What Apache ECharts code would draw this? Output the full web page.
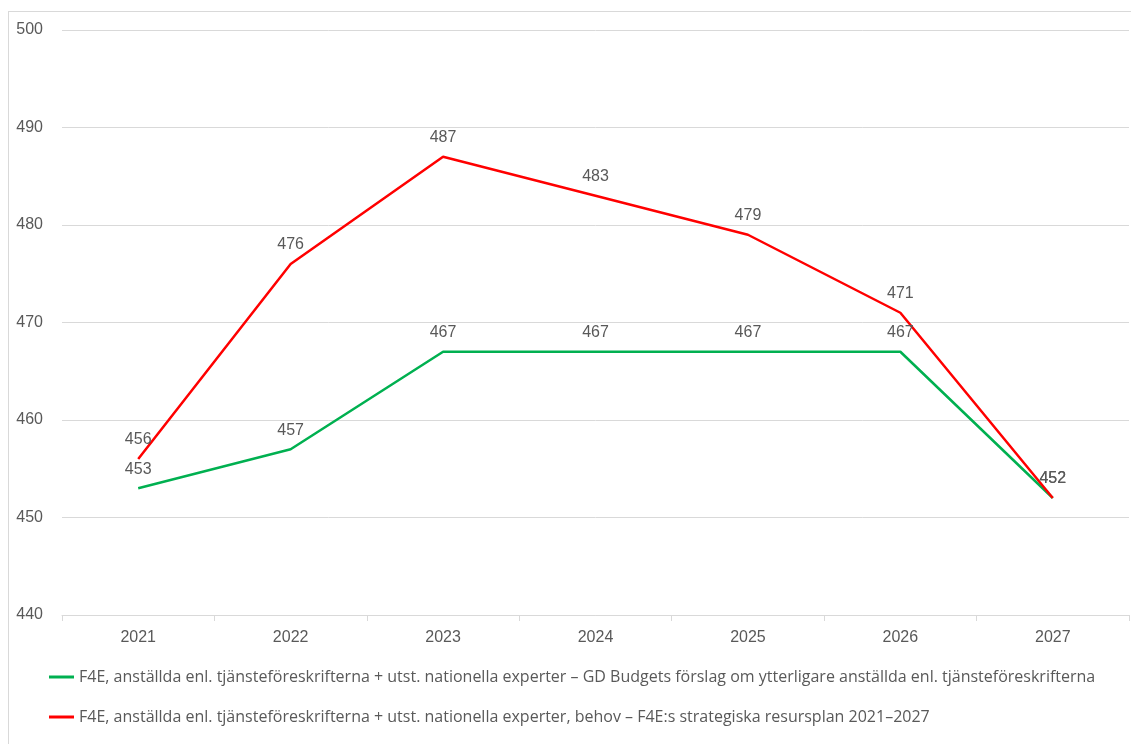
<!DOCTYPE html>
<html><head><meta charset="utf-8">
<script src="https://cdn.jsdelivr.net/npm/echarts@6/dist/echarts.min.js"></script>
<style>
html,body{margin:0;padding:0;background:#fff;overflow:hidden;}
#frame{position:absolute;left:8px;top:11px;width:1200px;height:800px;border:1px solid #d9d9d9;box-sizing:border-box;}
#c{position:absolute;left:0;top:0;width:1131px;height:744px;}
</style></head>
<body>
<div id="frame"></div>
<div id="c"></div>
<script>
var years = ['2021','2022','2023','2024','2025','2026','2027'];
var gdBudget = [453, 457, 467, 467, 467, 467, 452];
var f4eNeed = [456, 476, 487, 483, 479, 471, 452];
var seriesNames = [
  'F4E, anställda enl. tjänsteföreskrifterna + utst. nationella experter – GD Budgets förslag om ytterligare anställda enl. tjänsteföreskrifterna',
  'F4E, anställda enl. tjänsteföreskrifterna + utst. nationella experter, behov – F4E:s strategiska resursplan 2021–2027'
];
var font = 'Liberation Sans';
var chart = echarts.init(document.getElementById('c'));
function mk(name, data, color){
  return {
    name: name, type: 'line', data: data,
    symbol: 'circle', symbolSize: 0.1, showSymbol: true,
    lineStyle: {color: color, width: 2.5},
    itemStyle: {color: color},
    label: {show: true, position: 'top', distance: 11, color: '#595959', fontSize: 16, fontFamily: font},
    emphasis: {disabled: true},
    animation: false
  };
}
chart.setOption({
  animation: false,
  grid: {left: 62, right: 2, top: 30, bottom: 129},
  legend: {
    orient: 'vertical', left: 44, top: 664, itemGap: 24,
    icon: 'rect', itemWidth: 25, itemHeight: 3,
    textStyle: {color: '#595959', fontSize: 16, fontFamily: 'Open Sans'},
    data: seriesNames
  },
  xAxis: {
    type: 'category', data: years, boundaryGap: true,
    axisLine: {show: true, lineStyle: {color: '#d9d9d9'}},
    axisTick: {show: true, length: 6, lineStyle: {color: '#d9d9d9'}},
    axisLabel: {color: '#595959', fontSize: 16, fontFamily: font, margin: 15}
  },
  yAxis: {
    type: 'value', min: 440, max: 500, interval: 10,
    axisLine: {show: false}, axisTick: {show: false},
    splitLine: {lineStyle: {color: '#d9d9d9'}},
    axisLabel: {color: '#595959', fontSize: 16, fontFamily: font, margin: 19}
  },
  series: [mk(seriesNames[0], gdBudget, '#00b050'), mk(seriesNames[1], f4eNeed, '#ff0000')]
});
</script>
</body></html>
